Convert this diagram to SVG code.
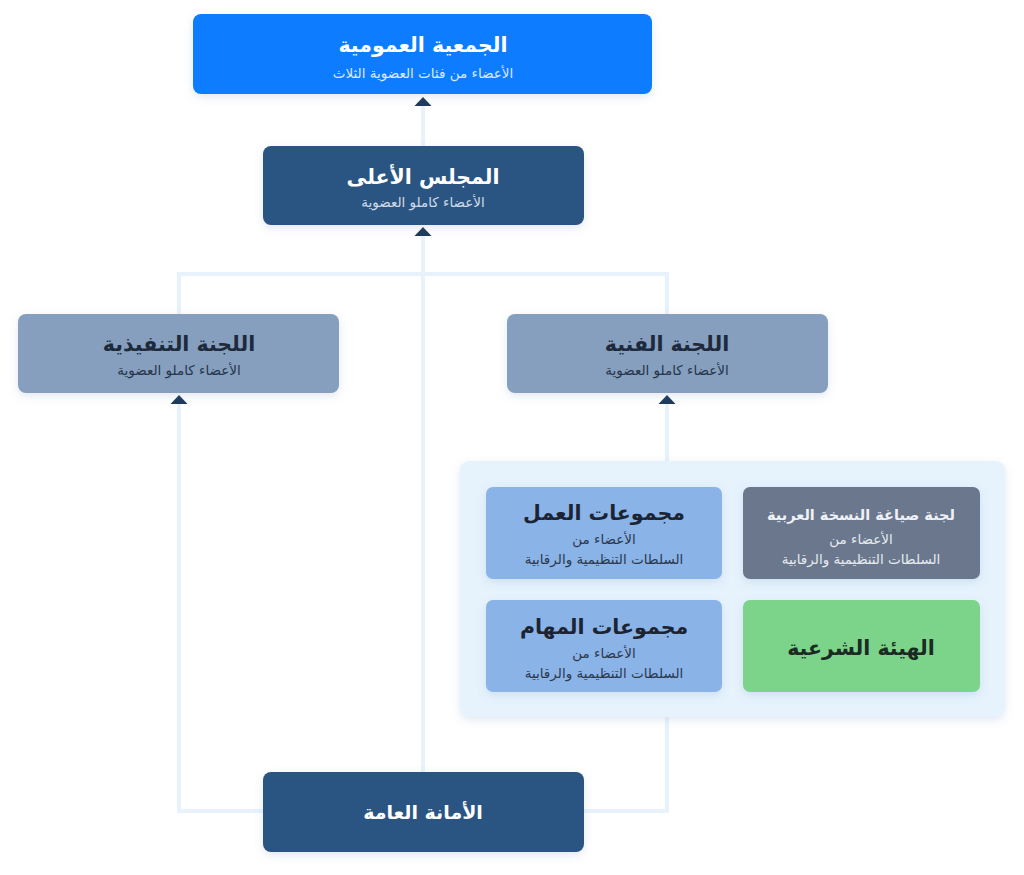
<svg xmlns="http://www.w3.org/2000/svg" width="1024" height="875" viewBox="0 0 1024 875">
<defs>
<filter id="sh" x="-10%" y="-20%" width="120%" height="150%">
<feDropShadow dx="0" dy="3" stdDeviation="4" flood-color="#5a7fb0" flood-opacity="0.18"/>
</filter>
<style>
.t{font-family:"DejaVu Sans","Noto Sans",sans-serif;text-anchor:middle;direction:rtl}
.h{font-size:20.5px;font-weight:bold}
.s{font-size:13.5px}
.c{fill:none;stroke:#e8f2fd;stroke-width:4}
.a{fill:#1f3a5c}
</style>
</defs>
<rect width="1024" height="875" fill="#ffffff"/>
<g id="connectors">
<line class="c" x1="423" y1="104" x2="423" y2="146"/>
<line class="c" x1="423" y1="234" x2="423" y2="772"/>
<polyline class="c" points="179,314 179,274 667,274 667,314"/>
<polyline class="c" points="179,402 179,811 263,811"/>
<polyline class="c" points="667,402 667,811 584,811"/>
<polygon class="a" points="423,97 431.5,106 414.5,106"/>
<polygon class="a" points="423,227 431.5,236 414.5,236"/>
<polygon class="a" points="179,395 187.5,404 170.5,404"/>
<polygon class="a" points="667,395 675.5,404 658.5,404"/>
</g>
<g id="general-assembly">
<rect x="193" y="14" width="459" height="80" rx="8" fill="#0a7cff" filter="url(#sh)"/>
<text class="t h" x="423" y="52" fill="#ffffff">الجمعية العمومية</text>
<text class="t s" x="423" y="78" fill="#d9eaff">الأعضاء من فئات العضوية الثلاث</text>
</g>
<g id="supreme-council">
<rect x="263" y="146" width="321" height="79" rx="8" fill="#2a5482" filter="url(#sh)"/>
<text class="t h" x="423" y="184" fill="#ffffff">المجلس الأعلى</text>
<text class="t s" x="423" y="207" fill="#d0dbe8">الأعضاء كاملو العضوية</text>
</g>
<g id="executive-committee">
<rect x="18" y="314" width="321" height="79" rx="8" fill="#869fbf" filter="url(#sh)"/>
<text class="t h" x="179" y="351" fill="#1d2a3c">اللجنة التنفيذية</text>
<text class="t s" x="179" y="375" fill="#26354a">الأعضاء كاملو العضوية</text>
</g>
<g id="technical-committee">
<rect x="507" y="314" width="321" height="79" rx="8" fill="#869fbf" filter="url(#sh)"/>
<text class="t h" x="667" y="351" fill="#1d2a3c">اللجنة الفنية</text>
<text class="t s" x="667" y="375" fill="#26354a">الأعضاء كاملو العضوية</text>
</g>
<g id="container">
<rect x="460" y="461" width="545" height="256" rx="9" fill="#e6f3fd" filter="url(#sh)"/>
</g>
<g id="working-groups">
<rect x="486" y="487" width="236" height="92" rx="7" fill="#8ab3e8" filter="url(#sh)"/>
<text class="t h" x="604" y="520" fill="#1c2433">مجموعات العمل</text>
<text class="t s" x="604" y="544" fill="#2c394d">الأعضاء من</text>
<text class="t s" x="604" y="564" fill="#2c394d">السلطات التنظيمية والرقابية</text>
</g>
<g id="arabic-committee">
<rect x="743" y="487" width="237" height="92" rx="7" fill="#6b778d" filter="url(#sh)"/>
<text class="t" x="861" y="520" font-size="14.5" font-weight="bold" fill="#eef1f6">لجنة صياغة النسخة العربية</text>
<text class="t s" x="861" y="544" fill="#e6eaf0">الأعضاء من</text>
<text class="t s" x="861" y="564" fill="#e6eaf0">السلطات التنظيمية والرقابية</text>
</g>
<g id="task-groups">
<rect x="486" y="600" width="236" height="92" rx="7" fill="#8ab3e8" filter="url(#sh)"/>
<text class="t h" x="604" y="634" fill="#1c2433">مجموعات المهام</text>
<text class="t s" x="604" y="658" fill="#2c394d">الأعضاء من</text>
<text class="t s" x="604" y="678" fill="#2c394d">السلطات التنظيمية والرقابية</text>
</g>
<g id="sharia-board">
<rect x="743" y="600" width="237" height="92" rx="7" fill="#7bd48b" filter="url(#sh)"/>
<text class="t h" x="861" y="655" fill="#1b2a22">الهيئة الشرعية</text>
</g>
<g id="general-secretariat">
<rect x="263" y="772" width="321" height="80" rx="8" fill="#2a5482" filter="url(#sh)"/>
<text class="t" x="423" y="819" font-size="19" font-weight="bold" fill="#ffffff">الأمانة العامة</text>
</g>
</svg>
